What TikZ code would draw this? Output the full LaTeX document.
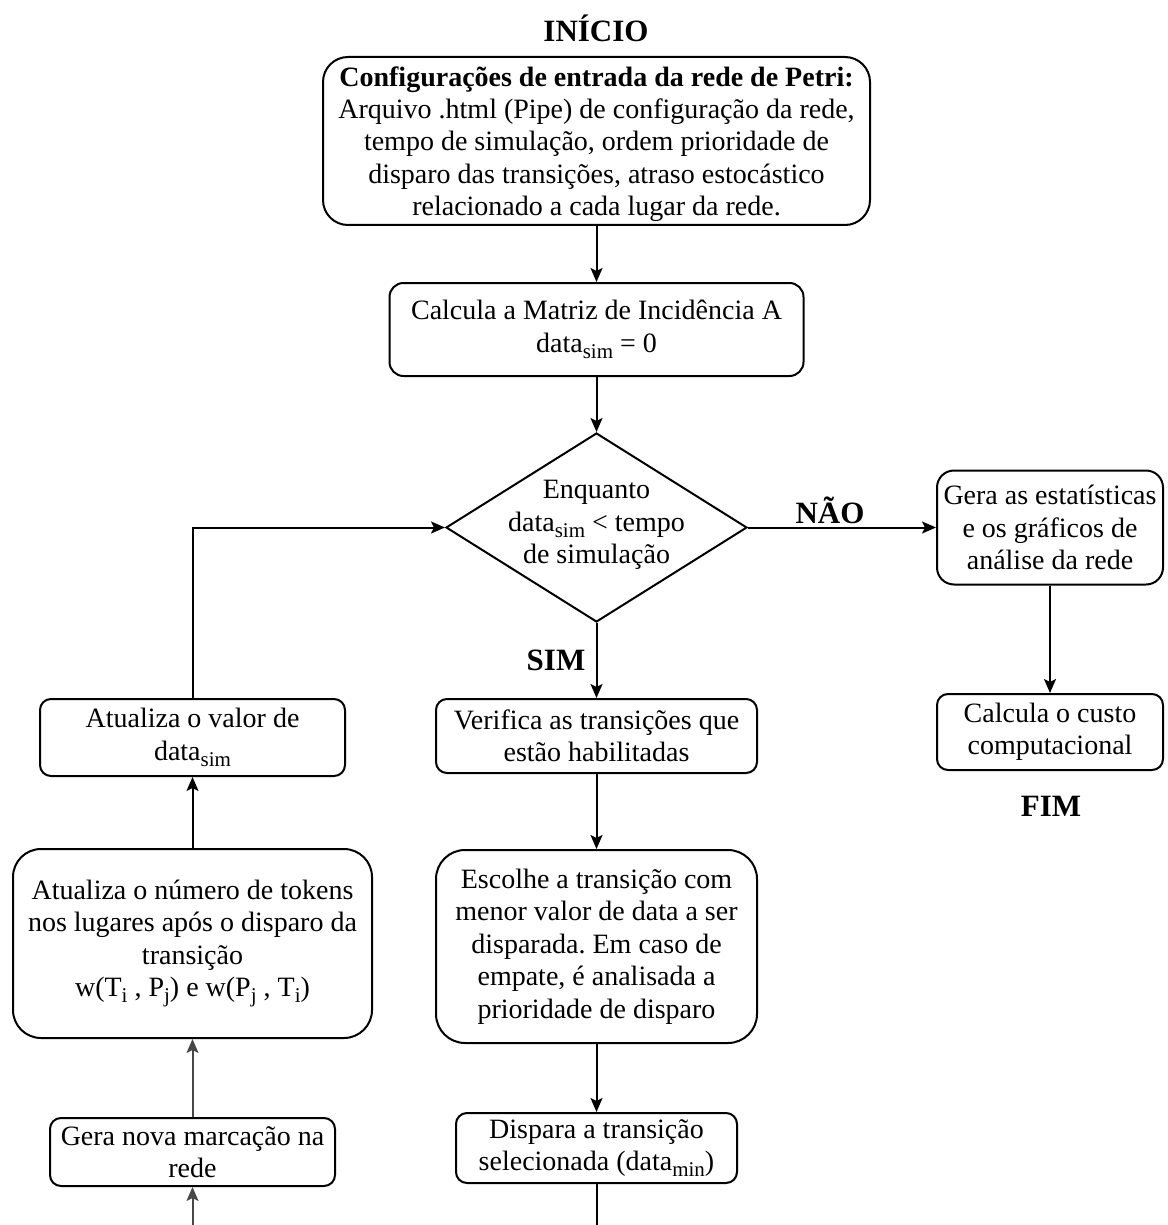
\documentclass[tikz,border=0pt]{standalone}
\usepackage{fontspec}
\setmainfont{Liberation Serif}
\usetikzlibrary{arrows.meta,shapes.geometric}
\frenchspacing

% lowered subscript in upright text
\newcommand\sbs[1]{\raisebox{-3pt}{\fontsize{10.5}{10.5}\selectfont #1}}

\begin{document}
\begin{tikzpicture}[x=0.5pt,y=-0.5pt,
  every node/.style={font=\fontsize{14}{16.2}\selectfont, text=black},
  % rounded process box: width, height (px units), corner radius
  rbox/.style n args={3}{draw, line width=1pt, align=center, inner sep=0pt,
    minimum width=#1*0.5pt, minimum height=#2*0.5pt, rounded corners=#3*0.5pt},
  flow/.style={draw, line width=1pt, -{Stealth[length=7pt,width=6pt,inset=1.5pt]}},
  flowgray/.style={flow, draw=black!72},
  tag/.style={font=\fontsize{15.5}{16}\selectfont\bfseries}]
\useasboundingbox (0,0) rectangle (1167,1225);

% start / end labels
\node[tag] (start) at (596,28) {INÍCIO};
\node[tag] (fim) at (1051,806) {FIM};

% main column
\node[rbox={547}{168}{25}] (cfg) at (596.5,141) {};
\node[align=center] (cfgtxt) at (596.5,144)
  {\textbf{Configurações de entrada da rede de Petri:}\\
   Arquivo .html (Pipe) de configuração da rede,\\
   tempo de simulação, ordem prioridade de\\
   disparo das transições, atraso estocástico\\
   relacionado a cada lugar da rede.};
\node[rbox={414}{93}{14}] (mat) at (596.5,329.5)
  {Calcula a Matriz de Incidência A\\ data\sbs{sim} = 0};

\node[draw, line width=1pt, shape=diamond, inner sep=0pt,
  minimum width=150.5pt, minimum height=94.5pt] (dec) at (596.5,527.5) {};
\node[align=center] (dectxt) at (596.5,525)
  {Enquanto\\ data\sbs{sim} < tempo\\ de simulação};

\node[rbox={321}{74}{11}] (ver) at (596.5,736)
  {Verifica as transições que\\ estão habilitadas};
\node[rbox={321}{193}{29}] (esc) at (596.5,946.5)
  {Escolhe a transição com\\ menor valor de data a ser\\ disparada. Em caso de\\
   empate, é analisada a\\ prioridade de disparo};
\node[rbox={281}{70}{11}] (dis) at (596.5,1148)
  {Dispara a transição\\ selecionada (data\sbs{min})};

% right column
\node[rbox={226}{114}{17}] (est) at (1050,527.5)
  {Gera as estatísticas\\ e os gráficos de\\ análise da rede};
\node[rbox={226}{76}{11}] (cus) at (1050,732)
  {Calcula o custo\\ computacional};

% left column
\node[rbox={305}{77}{11}] (upd) at (192.5,737.5)
  {Atualiza o valor de\\ data\sbs{sim}};
\node[rbox={359}{189}{28}] (tok) at (192.5,943.5)
  {Atualiza o número de tokens\\ nos lugares após o disparo da\\ transição\\
   w(T\sbs{i} , P\sbs{j}) e w(P\sbs{j} , T\sbs{i})};
\node[rbox={285}{68}{11}] (mark) at (192.5,1152)
  {Gera nova marcação na\\ rede};

% branch labels
\node[tag] (nao) at (830,510) {NÃO};
\node[tag] (sim) at (556,660) {SIM};

% connectors leaving / entering through the lower edge
\coordinate (outDown) at (596.5,1225);
\coordinate (inUp) at (192.5,1225);

\draw[flow] (cfg.south) -- (mat.north);
\draw[flow] (mat.south) -- (dec.north);
\draw[flow] (dec.east) -- (est.west);
\draw[flow] (est.south) -- (cus.north);
\draw[flow] (dec.south) -- (ver.north);
\draw[flow] (ver.south) -- (esc.north);
\draw[flow] (esc.south) -- (dis.north);
\draw[line width=1pt] (dis.south) -- (outDown);
\draw[flowgray] (inUp) -- (mark.south);
\draw[flowgray] (mark.north) -- (tok.south);
\draw[flow] (tok.north) -- (upd.south);
\draw[flow] (upd.north) |- (dec.west);
\end{tikzpicture}
\end{document}
